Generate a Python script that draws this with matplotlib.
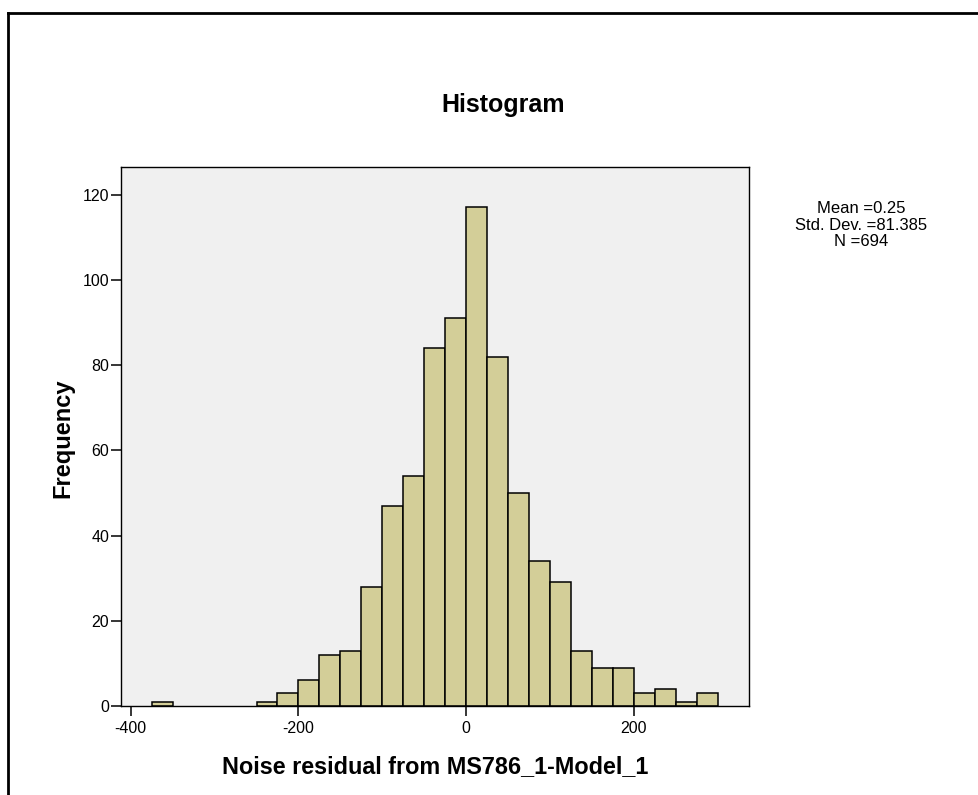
import matplotlib
matplotlib.use("Agg")
import matplotlib.pyplot as plt
from matplotlib.lines import Line2D

plt.rcParams['font.family'] = ['Liberation Sans', 'DejaVu Sans']
plt.rcParams['axes.unicode_minus'] = False

# histogram bins (width 25) and counts
bin_width = 25
bin_left = [-375, -350, -325, -300, -275, -250, -225, -200, -175, -150, -125,
            -100, -75, -50, -25, 0, 25, 50, 75, 100, 125, 150, 175, 200, 225,
            250, 275]
counts = [1, 0, 0, 0, 0, 1, 3, 6, 12, 13, 28, 47, 54, 84, 91, 117, 82, 50,
          34, 29, 13, 9, 9, 3, 4, 1, 3]

x_ticks = [-400, -200, 0, 200]
y_ticks = [0, 20, 40, 60, 80, 100, 120]
stats_text = "Mean =0.25\nStd. Dev. =81.385\nN =694"

W, H = 979, 795
fig = plt.figure(figsize=(W / 100, H / 100), dpi=100)
fig.patch.set_facecolor("white")

# axes box in pixel coords: left 121, right 749, top 167, bottom 706
ax_l, ax_r, ax_t, ax_b = 121, 749, 167, 706
ax = fig.add_axes([ax_l / W, 1 - ax_b / H, (ax_r - ax_l) / W, (ax_b - ax_t) / H])
ax.set_facecolor("#F0F0F0")

bars = [(l, c) for l, c in zip(bin_left, counts) if c > 0]
ax.bar([b[0] for b in bars], [b[1] for b in bars], width=bin_width,
       align="edge", color="#D3CE98", edgecolor="black", linewidth=1.1,
       zorder=2)

ax.set_xlim(-411.6, 337.2)
ax.set_ylim(0, 126.5)
ax.set_xticks(x_ticks)
ax.set_yticks(y_ticks)
ax.tick_params(direction="out", length=7.5, width=1.1, labelsize=11.5,
               color="black")
ax.tick_params(axis="y", pad=1)
ax.tick_params(axis="x", pad=3)
for sp in ax.spines.values():
    sp.set_linewidth(1)
    sp.set_color("black")

ax.set_xlabel("Noise residual from MS786_1-Model_1", fontsize=16.8,
              fontweight="bold", va="center")
ax.xaxis.set_label_coords(0.5, (ax_b - 767) / (ax_b - ax_t))
ax.set_ylabel("Frequency", fontsize=17, fontweight="bold", va="center")
ax.yaxis.set_label_coords((63 - ax_l) / (ax_r - ax_l), (ax_b - 438) / (ax_b - ax_t))

fig.text(503 / W, 1 - 105 / H, "Histogram", fontsize=18, fontweight="bold",
         ha="center", va="center")
fig.text(861 / W, 1 - 225 / H, stats_text, fontsize=12, ha="center",
         va="center", linespacing=1.12)

# outer frame (clipped at right and bottom)
fig.add_artist(Line2D([8 / W, 8 / W], [0, 1 - 13 / H], color="black",
                      linewidth=2))
fig.add_artist(Line2D([8 / W, 1], [1 - 13 / H, 1 - 13 / H], color="black",
                      linewidth=2))

fig.savefig("out.png", dpi=100)
